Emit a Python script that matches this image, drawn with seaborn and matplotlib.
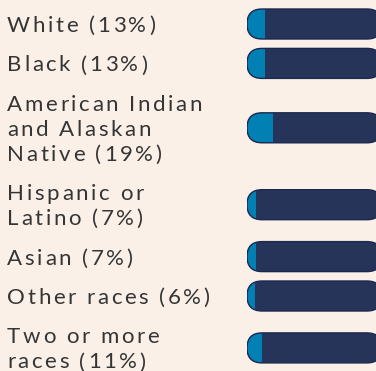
import numpy as np
import pandas as pd
import matplotlib
matplotlib.use("Agg")
import matplotlib.pyplot as plt
from matplotlib.patches import FancyBboxPatch
from matplotlib.font_manager import FontProperties, findfont
from matplotlib import ft2font
import seaborn as sns

# Population groups and their share (%)
groups = [
    "White",
    "Black",
    "American Indian\nand Alaskan\nNative",
    "Hispanic or\nLatino",
    "Asian",
    "Other races",
    "Two or more\nraces",
]
pcts = [13, 13, 19, 7, 7, 6, 11]

BG = "#FAF0E8"
NAVY = "#27345A"
BLUE = "#0080B3"
EDGE = "#1C2850"
TEXT = "#353535"

W, H, DPI = 376, 371, 100
LINE = 25.0       # pixel pitch of label lines
GAP = 14.4        # pixel gap between rows
FIRST = 24.0      # centre of the first row
BAR_H = 30.0
BAR_LEFT, BAR_RIGHT = 247, 382
FS = 16.0         # label size, pt
TRACK = 2.6       # extra letter spacing, px
FAMILY = "Lato"

sns.set_theme(style="white")
plt.rcParams["font.family"] = [FAMILY, "DejaVu Sans"]

labels = [f"{g} ({p}%)" for g, p in zip(groups, pcts)]
nlines = [lab.count("\n") + 1 for lab in labels]

# row centres stacked from the number of label lines
centers = []
top = FIRST - LINE / 2
for n in nlines:
    centers.append(top + n * LINE / 2)
    top += n * LINE + GAP

df = pd.DataFrame({"label": labels, "pct": pcts, "row": centers, "full": 100})

fig = plt.figure(figsize=(W / DPI, H / DPI), dpi=DPI, facecolor=BG)
tax = fig.add_axes([0, 0, 1, 1])
tax.set_xlim(0, W)
tax.set_ylim(H, 0)
tax.axis("off")

bax = fig.add_axes([BAR_LEFT / W, 0, (BAR_RIGHT - BAR_LEFT) / W, 1])
width = BAR_H / np.min(np.diff(centers))
sns.barplot(data=df, x="full", y="row", orient="h", native_scale=True,
            width=width, color=NAVY, saturation=1, linewidth=0,
            errorbar=None, ax=bax)
full_bars = list(bax.patches)
sns.barplot(data=df, x="pct", y="row", orient="h", native_scale=True,
            width=width, color=BLUE, saturation=1, linewidth=0,
            errorbar=None, ax=bax)
value_bars = list(bax.patches)[len(full_bars):]
bax.set_xlim(0, 100)
bax.set_ylim(H, 0)
bax.axis("off")

# turn every track into a pill with fully rounded ends
px_per_x = (BAR_RIGHT - BAR_LEFT) / 100
r = (BAR_H / 2) / px_per_x
for fb, vb in zip(full_bars, value_bars):
    box = (fb.get_x(), fb.get_y())
    w, h = fb.get_width(), fb.get_height()
    style = f"round,pad=0,rounding_size={r}"
    pill = FancyBboxPatch(box, w, h, boxstyle=style, mutation_aspect=px_per_x,
                          facecolor=NAVY, edgecolor="none", zorder=1)
    bax.add_patch(pill)
    fb.set_visible(False)
    vb.set_zorder(2)
    vb.set_clip_path(pill)
    bax.add_patch(FancyBboxPatch(box, w, h, boxstyle=style,
                                 mutation_aspect=px_per_x, facecolor="none",
                                 edgecolor=EDGE, linewidth=1.0, zorder=3))

# labels with letter spacing
prop = FontProperties(family=[FAMILY, "DejaVu Sans"], size=FS)
ft = ft2font.FT2Font(findfont(FontProperties(family=FAMILY)))
ft.set_size(FS, DPI)


def advance(ch):
    return ft.load_char(ord(ch)).linearHoriAdvance / 65536


def tracked_text(x, y, s):
    pen = x
    for ch in s:
        if ch != " ":
            tax.text(pen, y, ch, fontproperties=prop, color=TEXT,
                     ha="left", va="baseline")
        pen += advance(ch) + TRACK


cap = 0.7165 * FS * DPI / 72
for lab, c, n in zip(labels, centers, nlines):
    for k, line in enumerate(lab.split("\n")):
        yc = c + (k - (n - 1) / 2) * LINE
        tracked_text(7.0, yc + cap / 2, line)

fig.savefig("out.png", dpi=DPI, facecolor=BG)
